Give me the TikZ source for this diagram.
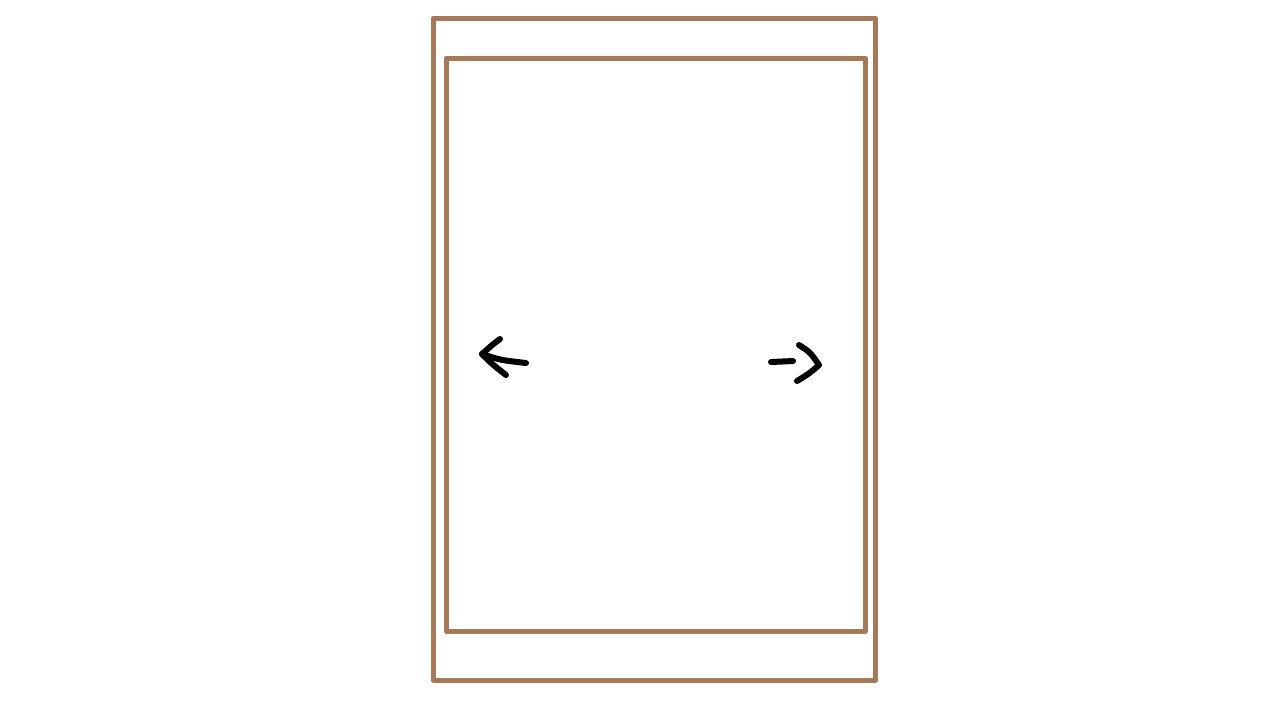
\documentclass[tikz,border=0pt]{standalone}
\definecolor{frame}{HTML}{A47A5A}
\begin{document}
\begin{tikzpicture}[x=0.01cm,y=-0.01cm,
  framestroke/.style={draw=frame,line width=0.05cm,line join=round,line cap=round},
  arrowstroke/.style={draw=black,line width=0.06cm,line join=round,line cap=round}]
\useasboundingbox (0,0) rectangle (1280,720);
\fill[white] (0,0) rectangle (1280,720);
% outer frame
\draw[framestroke] (433,18) rectangle (875,680);
% inner frame
\draw[framestroke] (446,58) rectangle (865,631);
% left arrow
\coordinate (ltip) at (482,354);
\draw[arrowstroke] (500,339) .. controls (492,345) .. (ltip) .. controls (492,364) .. (506,375);
\draw[arrowstroke] (ltip) .. controls (500,360) .. (526,363);
% right arrow
\coordinate (rtip) at (819,365);
\draw[arrowstroke] (771,362) -- (793,361);
\draw[arrowstroke] (799,345) .. controls (810,352) .. (rtip) .. controls (810,373) .. (797,381);
\end{tikzpicture}
\end{document}
